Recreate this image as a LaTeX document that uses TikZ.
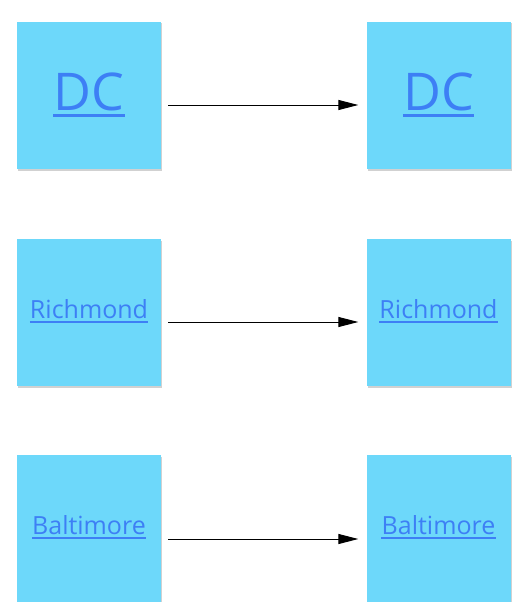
\documentclass[tikz,border=0pt]{standalone}
\usepackage{fontspec}
\setmainfont{Open Sans}
\usetikzlibrary{arrows.meta,shadows}
\definecolor{sticky}{HTML}{6DD8FA}
\definecolor{linkblue}{HTML}{3D7FF5}
\tikzset{
  note/.style={fill=sticky, draw=none, minimum width=144pt, minimum height=147pt, inner sep=0pt,
    drop shadow={shadow xshift=1pt, shadow yshift=-1.5pt, opacity=0.18, fill=black}},
  linktext/.style={text=linkblue, inner sep=0pt, anchor=base},
  bigtext/.style={linktext, font=\fontsize{52}{62}\selectfont},
  citytext/.style={linktext, font=\fontsize{25}{30}\selectfont},
  uline/.style={linkblue, line width=2pt},
  conn/.style={-{Triangle[length=20pt,width=10pt]}, line width=1pt, black, shorten <=7pt, shorten >=8pt}
}
\begin{document}
\begin{tikzpicture}[x=1pt,y=-1pt]
\useasboundingbox (0,0) rectangle (524,602);
% notes
\node[note] (a1) at (89,95.5) {};
\node[note] (b1) at (438.5,95.5) {};
\node[note] (a2) at (89,312.5) {};
\node[note] (b2) at (438.5,312.5) {};
\node[note] (a3) at (89,528.5) {};
\node[note] (b3) at (438.5,528.5) {};
% texts
\node[bigtext] (ta1) at (89,110) {DC};
\node[bigtext] (tb1) at (438.5,110) {DC};
\node[citytext] (ta2) at (89,318) {Richmond};
\node[citytext] (tb2) at (438.5,318) {Richmond};
\node[citytext] (ta3) at (89,534) {Baltimore};
\node[citytext] (tb3) at (438.5,534) {Baltimore};
% underlines
\foreach \t in {ta1,tb1}{
  \draw[uline, line width=2.6pt] ([yshift=-5.5pt]\t.base west) -- ([yshift=-5.5pt]\t.base east);
}
\foreach \t in {ta2,tb2,ta3,tb3}{
  \draw[uline] ([yshift=-3.5pt]\t.base west) -- ([yshift=-3.5pt]\t.base east);
}
% connectors
\draw[conn] ([yshift=-9.5pt]a1.east) -- ([yshift=-9.5pt]b1.west);
\draw[conn] ([yshift=-9.5pt]a2.east) -- ([yshift=-9.5pt]b2.west);
\draw[conn] ([yshift=-10.5pt]a3.east) -- ([yshift=-10.5pt]b3.west);
\end{tikzpicture}
\end{document}
